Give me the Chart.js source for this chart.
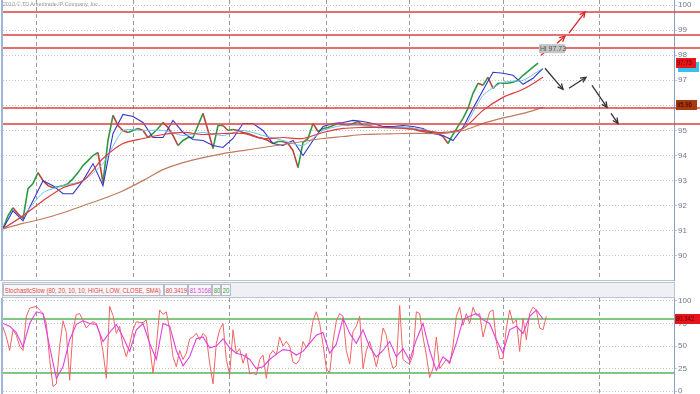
<!DOCTYPE html>
<html>
<head>
<meta charset="utf-8">
<script src="https://cdn.jsdelivr.net/npm/chart.js@4.4.0/dist/chart.umd.min.js"></script>
<style>
body{margin:0;background:#fff;width:700px;height:394px;overflow:hidden;position:relative;font-family:"Liberation Sans",Arial,sans-serif}
#main{position:absolute;left:0;top:0}
#stoch{position:absolute;left:0;top:298px}
#hdr{position:absolute;left:2px;top:282px;width:673px;height:16px;background:#eef0f3;border:1px solid #b8c4d4;box-sizing:border-box}
.b{position:absolute;top:1px;height:12px;border:1px solid #b4bcc8;background:#f7f7f7;font:8px "Liberation Sans",sans-serif;line-height:11px;box-sizing:border-box;white-space:nowrap;overflow:hidden}
.b span{display:inline-block;transform:scaleX(0.74);transform-origin:0 0;padding-left:1px}
#copy{position:absolute;left:3px;top:1px;font:6px "Liberation Sans",sans-serif;color:#9a9a9a;transform:scaleX(0.9);transform-origin:0 0;white-space:nowrap}
</style>
</head>
<body>
<canvas id="main" width="700" height="281"></canvas>
<div id="copy">2010 © TD Ameritrade IP Company, Inc.</div>
<div id="hdr">
  <div class="b" style="left:0;width:161px;color:#e04848"><span>StochasticSlow (80, 20, 10, 10, HIGH, LOW, CLOSE, SMA)</span></div>
  <div class="b" style="left:161px;width:24px;color:#e04848"><span>80.3419</span></div>
  <div class="b" style="left:185px;width:24px;color:#d848d8"><span>81.5168</span></div>
  <div class="b" style="left:209px;width:9px;color:#3a9a3a"><span>80</span></div>
  <div class="b" style="left:218px;width:10px;color:#3a9a3a"><span>20</span></div>
</div>
<canvas id="stoch" width="700" height="96"></canvas>
<script>
// bar unit = one stochastic sample; price sampled every 1.5 bars, MAs coarser
var monthBars = [10, 39, 68, 97, 122, 150, 179];

var price = [91.08,91.6,91.92,91.68,91.48,92.68,92.88,93.32,93.0,92.8,
 92.72,92.76,92.8,92.88,93.08,93.32,93.6,93.8,94.0,94.12,
 92.92,94.6,95.6,95.2,95.0,94.92,95.0,95.08,95.0,94.72,
 94.88,95.08,95.32,95.12,94.8,94.4,94.6,94.72,94.72,95.2,
 95.68,95.0,94.28,95.2,95.2,95.0,95.04,95.0,94.92,94.88,
 94.8,94.72,94.68,94.6,94.48,94.56,94.56,94.48,94.2,93.52,
 94.52,94.68,95.28,94.96,95.08,95.12,95.2,95.28,95.24,95.2,
 95.28,95.36,95.2,95.2,95.16,95.12,95.12,95.12,95.12,95.12,
 95.12,95.08,95.08,95.0,94.96,94.92,94.92,94.88,94.76,94.48,
 94.84,95.16,95.48,95.88,96.48,96.88,96.8,97.12,96.68,96.88,
 96.88,96.88,96.92,97.0,97.2,97.36,97.52,97.68];

var maBlue = [91.08,91.8,91.4,92.2,93.0,92.8,92.48,92.48,93.0,93.68,
 92.8,94.88,95.64,95.56,95.32,94.72,94.72,95.4,94.92,94.64,
 94.6,94.4,94.32,94.68,95.28,95.28,95.0,94.48,94.4,94.6,
 94.0,94.6,95.16,95.28,95.32,95.4,95.36,95.28,95.16,95.16,
 95.2,95.16,95.08,94.88,94.8,94.6,95.12,95.88,96.6,97.32,
 97.28,97.2,96.84,97.08,97.48];
var maCyan = [91.08,91.6,92.52,92.8,93.0,93.68,95.0,95.0,95.0,94.8,94.92,94.8,95.0,94.8,
 94.6,94.4,95.0,95.2,95.2,95.12,95.12,95.04,94.88,95.08,96.4,96.92,97.0,97.48];
var maRed = [91.08,91.6,92.2,92.72,93.0,93.88,94.48,94.68,94.84,94.92,94.84,94.88,94.88,94.68,
 94.72,94.68,94.92,95.08,95.12,95.12,95.08,95.0,94.92,95.08,95.8,96.32,96.64,97.12];
var maBrown = [91.08,91.3,91.48,91.72,92.0,92.28,92.6,93.0,93.44,93.72,93.92,94.08,94.2,94.32,
 94.44,94.56,94.68,94.76,94.84,94.86,94.88,94.88,94.88,95.0,95.28,95.5,95.68,95.92];

var levels = [99.72, 98.8, 98.28, 95.88, 95.24];
var redArrows = [[161.4,98.0,165.0,98.4],[166.2,98.48,168.6,98.76],[169.8,98.88,174.6,99.72]];
var blackArrows = [[162.6,97.48,168.0,96.64],[169.8,96.68,174.9,97.12],[176.7,96.8,181.2,95.92],[182.4,95.68,184.5,95.28]];

var stochK = [71,60,45,68,62,50,45,83,92,93,
 94,90,86,75,35,5,8,50,78,65,
 12,68,85,86,78,70,74,77,75,64,
 44,14,94,84,64,72,50,38,52,68,
 77,76,76,79,50,20,50,90,85,88,
 68,38,27,45,35,42,58,60,64,57,
 64,60,31,8,53,68,75,35,18,68,
 42,47,31,42,19,20,18,35,40,14,
 40,45,40,60,50,55,50,32,30,35,
 55,48,55,78,88,75,52,25,20,55,
 78,86,
 83,45,30,66,72,83,25,45,55,42,
 27,44,70,62,38,25,28,95,35,32,
 30,40,88,86,60,40,15,25,60,25,
 30,35,30,50,83,93,73,86,75,93,
 84,86,60,75,88,90,55,36,36,70,
 90,75,79,44,81,57,86,93,90,70,
 68,83];
var stochD = [75,72,65,49,75,88,86,49,14,27,
 57,74,78,75,74,55,65,74,60,44,
 68,75,53,35,75,72,45,28,38,58,
 60,48,50,58,48,42,40,35,25,27,
 35,41,46,45,40,44,53,62,65,42,
 52,
 81,64,53,68,49,38,45,55,38,47,
 34,57,75,45,23,38,32,53,79,83,
 86,79,75,57,42,68,72,64,83,90,
 80];
var stochLevels = [80, 20];

function pts(arr, step) {
  return arr.map(function(v, i){ return {x: i * step, y: v}; });
}

function arrow(ctx, x0, y0, x1, y1, color) {
  ctx.strokeStyle = color;
  ctx.lineWidth = 1.3;
  ctx.beginPath(); ctx.moveTo(x0, y0); ctx.lineTo(x1, y1); ctx.stroke();
  var a = Math.atan2(y1 - y0, x1 - x0), h = 6;
  ctx.beginPath();
  ctx.moveTo(x1 - h * Math.cos(a - 0.45), y1 - h * Math.sin(a - 0.45));
  ctx.lineTo(x1, y1);
  ctx.lineTo(x1 - h * Math.cos(a + 0.45), y1 - h * Math.sin(a + 0.45));
  ctx.stroke();
}

function valBox(ctx, x, y, w, bg, txt, col) {
  ctx.fillStyle = bg;
  ctx.fillRect(x, Math.round(y) - 5, w, 10);
  ctx.fillStyle = col;
  ctx.font = '7px "Liberation Sans", sans-serif';
  ctx.textBaseline = 'middle';
  ctx.textAlign = 'left';
  ctx.save();
  ctx.translate(x + 1, Math.round(y) + 0.5);
  ctx.scale(0.85, 1);
  ctx.fillText(txt, 0, 0);
  ctx.restore();
}

var mainDecor = {
  id: 'mainDecor',
  afterDraw: function(chart) {
    var ctx = chart.ctx, a = chart.chartArea, xs = chart.scales.x, ys = chart.scales.y;
    ctx.save();
    ctx.strokeStyle = '#dc4040';
    ctx.lineWidth = 1.5;
    levels.forEach(function(v) {
      var y = Math.round(ys.getPixelForValue(v));
      ctx.beginPath(); ctx.moveTo(a.left, y); ctx.lineTo(chart.width, y); ctx.stroke();
    });
    redArrows.forEach(function(r) {
      arrow(ctx, xs.getPixelForValue(r[0]), ys.getPixelForValue(r[1]), xs.getPixelForValue(r[2]), ys.getPixelForValue(r[3]), '#e02020');
    });
    blackArrows.forEach(function(r) {
      arrow(ctx, xs.getPixelForValue(r[0]), ys.getPixelForValue(r[1]), xs.getPixelForValue(r[2]), ys.getPixelForValue(r[3]), '#333');
    });
    // "Hi" bubble
    var hx = xs.getPixelForValue(160.8), hy = ys.getPixelForValue(98.26);
    ctx.fillStyle = '#c4c4c4';
    ctx.fillRect(hx, hy - 4.5, 26, 9);
    ctx.fillStyle = '#555';
    ctx.font = '7px "Liberation Sans", sans-serif';
    ctx.textBaseline = 'middle';
    ctx.fillText('Hi 97.73', hx + 1, hy + 0.5);
    // left border
    ctx.strokeStyle = '#7f9cc8';
    ctx.lineWidth = 1.5;
    ctx.beginPath(); ctx.moveTo(a.left - 1, 0); ctx.lineTo(a.left - 1, a.bottom); ctx.stroke();
    // bottom border
    ctx.strokeStyle = '#b8c4d4';
    ctx.lineWidth = 1;
    ctx.beginPath(); ctx.moveTo(0, a.bottom - 0.5); ctx.lineTo(a.right, a.bottom - 0.5); ctx.stroke();
    // price boxes on the axis
    valBox(ctx, a.right + 4, ys.getPixelForValue(97.52), 21, '#33c4ee', '', '#033');
    valBox(ctx, a.right + 2, ys.getPixelForValue(97.7), 20, '#e8141c', '97.73', '#5a0000');
    valBox(ctx, a.right + 2, ys.getPixelForValue(96.0), 21, '#a8380e', '95.96', '#2a0800');
    ctx.restore();
  }
};

var stochDecor = {
  id: 'stochDecor',
  beforeDatasetsDraw: function(chart) {
    var ctx = chart.ctx, a = chart.chartArea, ys = chart.scales.y;
    ctx.save();
    ctx.strokeStyle = '#80c880';
    ctx.lineWidth = 2;
    stochLevels.forEach(function(v) {
      var y = Math.round(ys.getPixelForValue(v));
      ctx.beginPath(); ctx.moveTo(a.left, y); ctx.lineTo(a.right, y); ctx.stroke();
    });
    ctx.restore();
  },
  afterDraw: function(chart) {
    var ctx = chart.ctx, a = chart.chartArea, ys = chart.scales.y;
    ctx.save();
    ctx.strokeStyle = '#7f9cc8';
    ctx.lineWidth = 1.5;
    ctx.beginPath(); ctx.moveTo(a.left - 1, 0); ctx.lineTo(a.left - 1, a.bottom); ctx.stroke();
    valBox(ctx, a.right + 1, ys.getPixelForValue(80.34), 25, '#e8141c', '80.342', '#5a0000');
    ctx.restore();
  }
};

function xScale() {
  return {
    type: 'linear', min: 0, max: 201.3,
    afterBuildTicks: function(s) { s.ticks = monthBars.map(function(v){ return {value: v}; }); },
    afterFit: function(s) { s.height = 0; s.paddingLeft = 0; s.paddingRight = 0; },
    ticks: {display: false},
    grid: {color: '#9a9a9a', drawTicks: false, lineWidth: 1},
    border: {display: false, dash: [4, 3]}
  };
}

function yScale(min, max, step, fmt) {
  return {
    position: 'right', min: min, max: max,
    afterFit: function(s) { s.width = 26; s.paddingTop = 0; s.paddingBottom = 0; },
    ticks: {stepSize: step, includeBounds: false, padding: 1, color: '#6e7888',
      font: {size: 8, family: '"Liberation Sans", sans-serif'}, callback: fmt},
    grid: {color: '#c4c4c4', tickLength: 3, lineWidth: 1},
    border: {color: '#8aa2c8', width: 1, dash: [1, 2]}
  };
}

var commonOpts = function(x, y) {
  return {
    animation: false, responsive: false, devicePixelRatio: 1,
    layout: {padding: {left: 3, top: 0, right: 0, bottom: 0}},
    plugins: {legend: {display: false}, tooltip: {enabled: false}},
    elements: {point: {radius: 0}, line: {borderWidth: 1}},
    scales: {x: x, y: y}
  };
};

new Chart(document.getElementById('main'), {
  type: 'line',
  data: {
    datasets: [
      {data: pts(maBrown, 6), borderColor: '#c07a5c', borderWidth: 1.2, tension: 0.3},
      {data: pts(maRed, 6), borderColor: '#e03a3a', borderWidth: 1.2, tension: 0.3},
      {data: pts(maCyan, 6), borderColor: '#6cc0ec', borderWidth: 1, tension: 0.2},
      {data: pts(maBlue, 3), borderColor: '#3535c8', borderWidth: 1.1},
      {data: pts(price, 1.5), borderColor: '#2e9a44', borderWidth: 1.6,
        segment: {borderColor: function(c){ return c.p1.parsed.y < c.p0.parsed.y ? '#b8463a' : '#2e9a44'; }}}
    ]
  },
  options: commonOpts(xScale(), yScale(89, 100.2, 1, function(v){ return (v >= 90 && v <= 100) ? v : ''; })),
  plugins: [mainDecor]
});

new Chart(document.getElementById('stoch'), {
  type: 'line',
  data: {
    datasets: [
      {data: pts(stochD, 2), borderColor: '#e040e0', borderWidth: 1.1},
      {data: pts(stochK, 1), borderColor: '#f06464', borderWidth: 1}
    ]
  },
  options: commonOpts(xScale(), yScale(-3.3, 103.3, 25, function(v){ return v; })),
  plugins: [stochDecor]
});
</script>
</body>
</html>
